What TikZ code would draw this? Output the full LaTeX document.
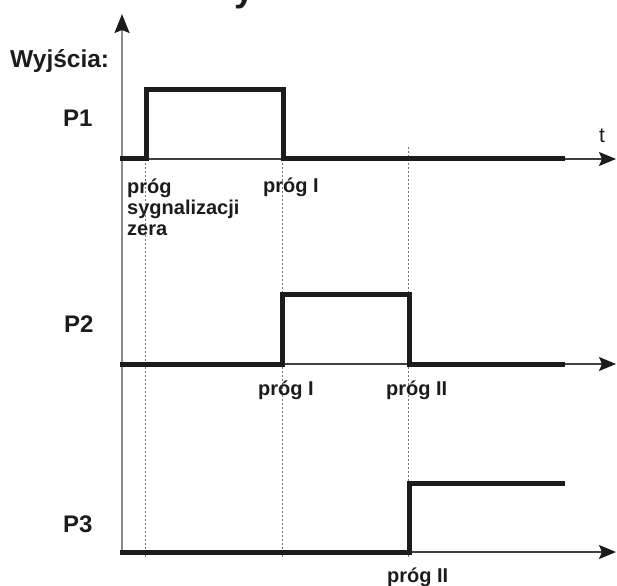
\documentclass[tikz,border=0pt]{standalone}
\usepackage{fontspec}
\setmainfont{Liberation Sans}
\usetikzlibrary{arrows.meta}
\definecolor{sigblack}{HTML}{1C1C1C}
\definecolor{axisgray}{HTML}{8C8C8C}
\tikzset{
  signal/.style={line width=5pt, color=sigblack, line join=miter},
  timeaxis/.style={line width=1.3pt, color=black!75,
    -{Stealth[length=17pt, width=14pt, inset=3pt, color=sigblack]}},
  valueaxis/.style={line width=2pt, color=axisgray,
    -{Stealth[length=19pt, width=15pt, inset=3pt, color=sigblack]}},
  guide/.style={line width=0.9pt, color=black!55, dash pattern=on 2pt off 2pt},
  thrlabel/.style={font=\bfseries\fontsize{20}{21}\selectfont, inner sep=0pt,
    anchor=base west, align=left, text=sigblack},
  outlabel/.style={font=\bfseries\fontsize{24}{26}\selectfont, inner sep=0pt,
    anchor=base west, text=sigblack}
}
\begin{document}
\begin{tikzpicture}[x=1pt, y=-1pt]
% \clip (0,0) rectangle (617,585);
\clip (0,0) rectangle (617,585);
{
% Cut title at the top edge
\node[outlabel, font=\bfseries\fontsize{36}{40}\selectfont] (title) at (234,2) {y};

% Drawing guide lines of the thresholds
\coordinate (zeroA) at (145,159);
\coordinate (zeroB) at (145,558);
\coordinate (firstA) at (282,159);
\coordinate (firstB) at (282,558);
\coordinate (secondA) at (408,147);
\coordinate (secondB) at (408,558);
\draw [guide] (zeroA) -- (zeroB);
\draw [guide] (firstA) -- (firstB);
\draw [guide] (secondA) -- (secondB);

% Drawing value axis
\coordinate (origin) at (122,553);
\coordinate (top) at (122,14);
\draw [valueaxis] (origin) -- (top);

% Drawing time axes
\coordinate (axisAa) at (120,159);
\coordinate (axisAb) at (616,159);
\coordinate (axisBa) at (120,364);
\coordinate (axisBb) at (616,364);
\coordinate (axisCa) at (120,552);
\coordinate (axisCb) at (616,552);
\draw [timeaxis] (axisAa) -- (axisAb);
\draw [timeaxis] (axisBa) -- (axisBb);
\draw [timeaxis] (axisCa) -- (axisCb);

% Drawing signal P1
\draw [signal] (120,159) -- (146,159) -- (146,90) -- (283,90) -- (283,159) -- (565,159);

% Drawing signal P2
\draw [signal] (120,364) -- (282,364) -- (282,294) -- (409,294) -- (409,364) -- (565,364);

% Drawing signal P3
\draw [signal] (120,552) -- (409,552) -- (409,483) -- (565,483);

% Marking outputs
\node[outlabel, font=\bfseries\fontsize{24.5}{26}\selectfont] (outputs) at (10,68) {Wyjścia:};
\node[outlabel] (pone) at (63,127) {P1};
\node[outlabel] (ptwo) at (64,332) {P2};
\node[outlabel] (pthree) at (63,532) {P3};
\node[inner sep=0pt, anchor=base west, font=\fontsize{21}{23}\selectfont, text=sigblack] (time) at (599,143) {t};

% Marking thresholds
\node[thrlabel] (zerothr) at (127,235) {próg\\sygnalizacji\\zera};
\node[thrlabel] (firstthrA) at (263,193) {próg I};
\node[thrlabel] (firstthrB) at (258,395) {próg I};
\node[thrlabel] (secondthrA) at (386,395) {próg II};
\node[thrlabel] (secondthrB) at (387,582) {próg II};
}
\end{tikzpicture}
\end{document}
